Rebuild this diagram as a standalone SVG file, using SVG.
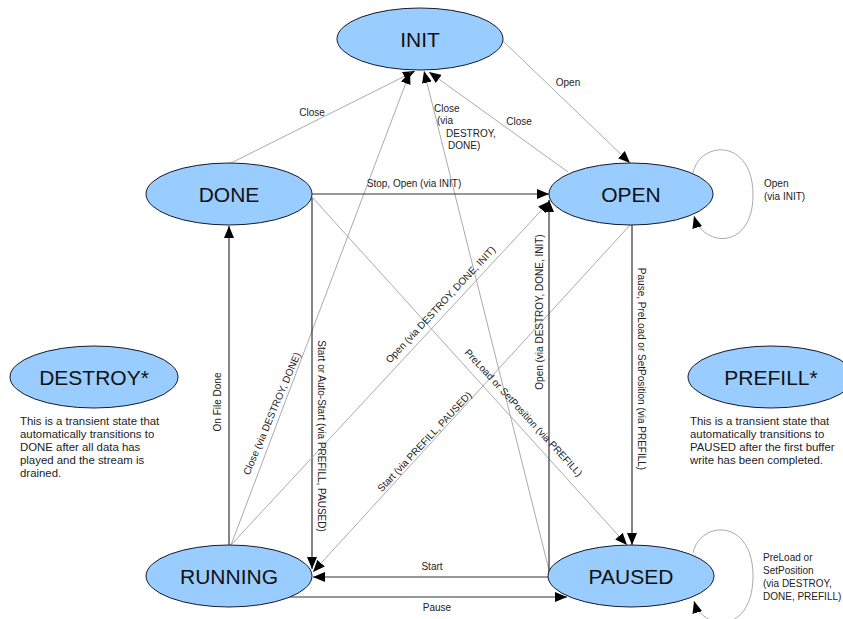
<svg xmlns="http://www.w3.org/2000/svg" width="843" height="619" viewBox="0 0 843 619">
  <style>
    .state ellipse { fill: #99ccff; stroke: #1a1a2a; stroke-width: 1; }
    .state text { font-family: "Liberation Sans", Arial, sans-serif; font-size: 21px; fill: #111; text-anchor: middle; }
    .state text.note { font-size: 11.4px; fill: #222; text-anchor: start; }
    .solid { stroke: #333; stroke-width: 1.2; fill: none; marker-end: url(#ah); }
    .thin { stroke: #aaa; stroke-width: 1; fill: none; }
    .thin.arrow { marker-end: url(#ah); }
    .lbl { font-family: "Liberation Sans", Arial, sans-serif; font-size: 10px; fill: #222; }
    .mid { text-anchor: middle; }
  </style>
  <defs>
    <marker id="ah" viewBox="0 0 12 10" refX="12" refY="5" markerWidth="12" markerHeight="10" markerUnits="userSpaceOnUse" orient="auto">
      <path d="M0,0 L12,5 L0,10 z" fill="#000"/>
    </marker>
  </defs>
  <rect width="843" height="619" fill="#fff"/>

  <!-- transitions -->
  <g id="connectors">
    <!-- into INIT -->
    <path class="thin arrow" d="M229,164 L415,71"/>
    <path class="thin arrow" d="M231,545 L410,72"/>
    <path class="thin arrow" d="M550,574 L424,71"/>
    <path class="thin arrow" d="M568,172 L429,72"/>
    <!-- INIT to OPEN -->
    <path class="thin arrow" d="M503,41 L630,163"/>
    <!-- DONE to OPEN -->
    <path class="solid" d="M312,194 L549,194"/>
    <!-- DONE to RUNNING -->
    <path class="solid" d="M312,197 L312,569"/>
    <!-- DONE to PAUSED -->
    <path class="thin arrow" d="M312,197 L627,545"/>
    <!-- RUNNING to DONE -->
    <path class="solid" d="M229,545 L229,226"/>
    <!-- RUNNING to OPEN -->
    <path class="thin arrow" d="M231,545 L550,201"/>
    <!-- OPEN to RUNNING -->
    <path class="thin arrow" d="M630,225 L313,572"/>
    <!-- OPEN to PAUSED -->
    <path class="solid" d="M632,225 L632,545"/>
    <!-- PAUSED to OPEN -->
    <path class="solid" d="M549,574 L549,200"/>
    <!-- PAUSED to RUNNING -->
    <path class="solid" d="M548,577 L313,577"/>
    <!-- RUNNING to PAUSED -->
    <path class="solid" d="M290,597 L567,597"/>
    <!-- self loops -->
    <path class="thin arrow" d="M693,173 C700,140 753,138 753,195 C753,250 703,248 694,216"/>
    <path class="thin arrow" d="M693,553 C700,520 753,518 753,576 C753,634 703,632 694,601"/>

    <!-- labels -->
    <text class="lbl mid" x="312" y="116">Close</text>
    <text class="lbl mid" x="568" y="86">Open</text>
    <text class="lbl mid" x="519" y="125">Close</text>
    <text class="lbl" x="434" y="112">Close</text>
    <text class="lbl" x="437" y="124">(via</text>
    <text class="lbl" x="446" y="137">DESTROY,</text>
    <text class="lbl" x="448" y="149">DONE)</text>
    <text class="lbl mid" x="414" y="187">Stop, Open (via INIT)</text>
    <text class="lbl mid" x="432" y="570">Start</text>
    <text class="lbl mid" x="437" y="611">Pause</text>
    <text class="lbl" x="764" y="187">Open</text>
    <text class="lbl" x="764" y="200">(via INIT)</text>
    <text class="lbl" x="763" y="561">PreLoad or</text>
    <text class="lbl" x="763" y="574">SetPosition</text>
    <text class="lbl" x="763" y="587">(via DESTROY,</text>
    <text class="lbl" x="763" y="600">DONE, PREFILL)</text>
    <text class="lbl mid" transform="translate(221,402) rotate(-90)">On File Done</text>
    <text class="lbl mid" transform="translate(318,436) rotate(90)">Start or Auto-Start (via PREFILL, PAUSED)</text>
    <text class="lbl mid" transform="translate(543,312) rotate(-90)">Open (via DESTROY, DONE, INIT)</text>
    <text class="lbl mid" transform="translate(638,369) rotate(90)">Pause, PreLoad or SetPosition (via PREFILL)</text>
    <text class="lbl mid" transform="translate(275,415) rotate(-67)">Close (via DESTROY, DONE)</text>
    <text class="lbl mid" transform="translate(443,307) rotate(-47)">Open (via DESTROY, DONE, INIT)</text>
    <text class="lbl mid" transform="translate(427,444) rotate(-47)">Start (via PREFILL, PAUSED)</text>
    <text class="lbl mid" transform="translate(521,415) rotate(47.5)">PreLoad or SetPosition (via PREFILL)</text>
  </g>

  <!-- states -->
  <g id="init" class="state">
    <ellipse cx="420" cy="39" rx="83" ry="31"/>
    <text x="420" y="47">INIT</text>
  </g>
  <g id="open" class="state">
    <ellipse cx="631" cy="194" rx="82" ry="31"/>
    <text x="631" y="202">OPEN</text>
  </g>
  <g id="done" class="state">
    <ellipse cx="229" cy="194" rx="83" ry="31"/>
    <text x="229" y="202">DONE</text>
  </g>
  <g id="running" class="state">
    <ellipse cx="229" cy="576" rx="83" ry="31"/>
    <text x="229" y="584">RUNNING</text>
  </g>
  <g id="paused" class="state">
    <ellipse cx="631" cy="576" rx="83" ry="31"/>
    <text x="631" y="584">PAUSED</text>
  </g>
  <g id="destroy" class="state">
    <ellipse cx="94" cy="377" rx="84" ry="31"/>
    <text x="94" y="385">DESTROY*</text>
    <text class="note" x="20" y="425">This is a transient state that</text>
    <text class="note" x="20" y="438">automatically transitions to</text>
    <text class="note" x="20" y="451">DONE after all data has</text>
    <text class="note" x="20" y="464">played and the stream is</text>
    <text class="note" x="20" y="477">drained.</text>
  </g>
  <g id="prefill" class="state">
    <ellipse cx="771" cy="377" rx="83" ry="31"/>
    <text x="771" y="385">PREFILL*</text>
    <text class="note" x="690" y="425">This is a transient state that</text>
    <text class="note" x="690" y="438">automatically transitions to</text>
    <text class="note" x="690" y="451">PAUSED after the first buffer</text>
    <text class="note" x="690" y="464">write has been completed.</text>
  </g>
</svg>
